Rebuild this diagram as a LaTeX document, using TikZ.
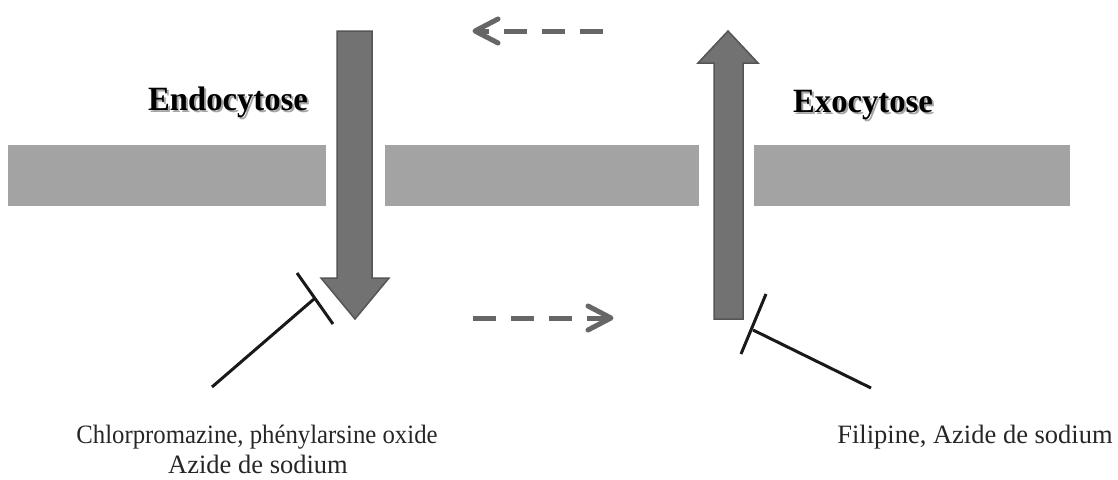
\documentclass[tikz,border=0pt]{standalone}
\usepackage{fontspec}
\setmainfont{Liberation Serif}
\begin{document}
\begin{tikzpicture}[x=1pt,y=-1pt,
  membrane/.style={fill=memb,draw=none},
  bigarrow/.style={fill=arrowfill,draw=arrowdraw,line width=1.5pt,line join=miter},
  dashline/.style={draw=dashcol,line width=5pt,dash pattern=on 23pt off 15pt},
  chevron/.style={draw=dashcol,line width=5pt,line cap=round,line join=round},
  inhib/.style={draw=black!90,line width=3pt},
  title/.style={font=\fontsize{34}{36}\selectfont\bfseries\addfontfeature{FakeStretch=0.96},anchor=base,inner sep=0pt},
  shadowtitle/.style={title,text=black!35},
  label/.style={font=\fontsize{26.5}{30}\selectfont,anchor=base,inner sep=0pt,text=black!85},
  narrowlabel/.style={label,font=\fontsize{26.5}{30}\selectfont\addfontfeature{FakeStretch=0.935}}
]
\definecolor{memb}{HTML}{A3A3A3}
\definecolor{arrowfill}{HTML}{727272}
\definecolor{arrowdraw}{HTML}{555555}
\definecolor{dashcol}{HTML}{666666}
\useasboundingbox (0,0) rectangle (1118,479);
% membrane
\fill[membrane] (8,145) rectangle (326,206);
\fill[membrane] (385,145) rectangle (699,206);
\fill[membrane] (754,145) rectangle (1070,206);
% endocytosis arrow (down)
\draw[bigarrow] (337,31) -- (372,31) -- (372,278) -- (389,278) -- (355,319) -- (321,278) -- (337,278) -- cycle;
% exocytosis arrow (up)
\draw[bigarrow] (714,319) -- (743,319) -- (743,63) -- (758,63) -- (728,31) -- (698,63) -- (714,63) -- cycle;
% titles
\node[shadowtitle] at (230,112) {Endocytose};
\node[title] (endo) at (228,110) {Endocytose};
\node[shadowtitle] at (865,114) {Exocytose};
\node[title] (exo) at (863,112) {Exocytose};
% dashed arrows
\coordinate (ts) at (603,31);
\coordinate (te) at (475,31);
\draw[dashline] (ts) -- (te);
\draw[chevron] (498,19) -- (te) -- (498,43);
\coordinate (bs) at (473,318);
\coordinate (be) at (611,318);
\draw[dashline] (bs) -- (be);
\draw[chevron] (588,306) -- (be) -- (588,330);
% inhibitors
\coordinate (l0) at (212,387);
\coordinate (l1) at (314,299);
\draw[inhib] (l0) -- (l1);
\draw[inhib] (297,273) -- (333,324);
\coordinate (r0) at (871,388);
\coordinate (r1) at (753,330);
\draw[inhib] (r0) -- (r1);
\draw[inhib] (766,294) -- (741,354);
% labels
\node[narrowlabel] (lab1) at (257,443) {Chlorpromazine, phénylarsine oxide};
\node[label] (lab2) at (258,473) {Azide de sodium};
\node[label] (lab3) at (975,443) {Filipine, Azide de sodium};
\end{tikzpicture}
\end{document}
